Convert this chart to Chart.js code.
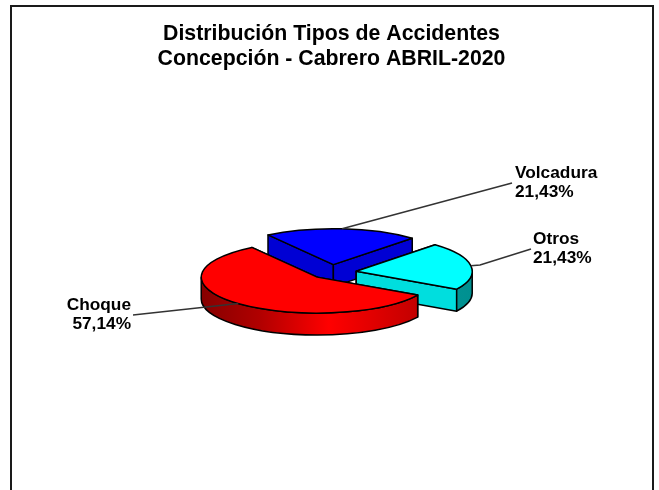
<!DOCTYPE html>
<html>
<head>
<meta charset="utf-8">
<style>
  body { margin: 0; background: #fff; }
</style>
<script src="https://cdn.jsdelivr.net/npm/chart.js@4"></script>
</head>
<body>
<canvas id="chart" width="659" height="490"></canvas>
<script>
const categories = ['Choque', 'Volcadura', 'Otros']
const values = [57.14, 21.43, 21.43]
const titleLines = ['Distribución Tipos de Accidentes', 'Concepción - Cabrero ABRIL-2020']

const topColors = ['#ff0000', '#0000ff', '#00ffff']
const faceColors = ['#a00000', '#0000d4', '#00dede']

const tilt = 0.31
const depth = 22
const explode = [21, 25, 25]
const drawOrder = [1, 2, 0]

// where each label sits, and the end of its leader line on the label side
const labelSpots = [
    { x: 131, y: 305, align: 'right', lineX: 133, lineY: 315 },
    { x: 515, y: 173, align: 'left', lineX: 512, lineY: 183 },
    { x: 533, y: 239, align: 'left', lineX: 531, lineY: 249, elbowX: 480, elbowY: 265 },
]

function midOf(arc) {
    return (arc.startAngle + arc.endAngle) / 2
}

function sliceCenter(arc, i) {
    const mid = midOf(arc)
    return {
        x: arc.x + Math.cos(mid) * explode[i],
        y: arc.y + Math.sin(mid) * explode[i] * tilt,
    }
}

function rimPoint(arc, i, angle) {
    const c = sliceCenter(arc, i)
    return {
        x: c.x + Math.cos(angle) * arc.outerRadius,
        y: c.y + Math.sin(angle) * arc.outerRadius * tilt,
    }
}

function drawFace(ctx, arc, i, angle) {
    const c = sliceCenter(arc, i)
    const p = rimPoint(arc, i, angle)
    ctx.beginPath()
    ctx.moveTo(c.x, c.y)
    ctx.lineTo(p.x, p.y)
    ctx.lineTo(p.x, p.y + depth)
    ctx.lineTo(c.x, c.y + depth)
    ctx.closePath()
    ctx.fillStyle = faceColors[i]
    ctx.fill()
    ctx.stroke()
}

function rimFill(ctx, arc, i) {
    const c = sliceCenter(arc, i)
    const g = ctx.createLinearGradient(c.x - arc.outerRadius, 0, c.x + arc.outerRadius, 0)
    if (i === 0) {
        g.addColorStop(0, '#860000')
        g.addColorStop(0.25, '#b00000')
        g.addColorStop(0.55, '#ff0000')
        g.addColorStop(1, '#b80000')
    } else if (i === 2) {
        g.addColorStop(0, '#00b0b0')
        g.addColorStop(1, '#009090')
    } else {
        return faceColors[i]
    }
    return g
}

// the part of the slice's edge that faces the viewer
function drawRim(ctx, arc, i) {
    const c = sliceCenter(arc, i)
    const r = arc.outerRadius
    const TAU = Math.PI * 2
    for (let turn = 0; turn < 2; turn++) {
        const a0 = Math.max(arc.startAngle, turn * TAU)
        const a1 = Math.min(arc.endAngle, turn * TAU + Math.PI)
        if (a1 <= a0) continue
        ctx.beginPath()
        ctx.ellipse(c.x, c.y, r, r * tilt, 0, a0, a1)
        ctx.ellipse(c.x, c.y + depth, r, r * tilt, 0, a1, a0, true)
        ctx.closePath()
        ctx.fillStyle = rimFill(ctx, arc, i)
        ctx.fill()
        ctx.stroke()
    }
}

function drawTop(ctx, arc, i) {
    const c = sliceCenter(arc, i)
    ctx.save()
    ctx.translate(c.x, c.y)
    ctx.scale(1, tilt)
    ctx.translate(-arc.x, -arc.y)
    arc.draw(ctx)
    ctx.restore()

    ctx.beginPath()
    ctx.moveTo(c.x, c.y)
    ctx.ellipse(c.x, c.y, arc.outerRadius, arc.outerRadius * tilt, 0, arc.startAngle, arc.endAngle)
    ctx.closePath()
    ctx.stroke()
}

const pie3d = {
    id: 'pie3d',
    beforeDraw(chart) {
        const ctx = chart.ctx
        ctx.save()
        ctx.strokeStyle = '#1a1a1a'
        ctx.lineWidth = 2
        ctx.strokeRect(11, 6, 642, 600)
        ctx.restore()
    },
    beforeDatasetsDraw(chart) {
        const ctx = chart.ctx
        const arcs = chart.getDatasetMeta(0).data
        ctx.save()
        ctx.strokeStyle = '#000'
        ctx.lineWidth = 1.5
        ctx.lineJoin = 'round'
        drawOrder.forEach(i => {
            drawFace(ctx, arcs[i], i, arcs[i].startAngle)
            drawFace(ctx, arcs[i], i, arcs[i].endAngle)
            drawRim(ctx, arcs[i], i)
        })
        drawOrder.forEach(i => drawTop(ctx, arcs[i], i))
        ctx.restore()

        // leader lines and labels
        ctx.save()
        ctx.strokeStyle = '#333'
        ctx.lineWidth = 1.5
        ctx.fillStyle = '#000'
        ctx.font = 'bold 17.3px "Liberation Sans"'
        ctx.textBaseline = 'middle'
        arcs.forEach((arc, i) => {
            const spot = labelSpots[i]
            const anchor = rimPoint(arc, i, midOf(arc))
            ctx.beginPath()
            ctx.moveTo(anchor.x, anchor.y)
            if (spot.elbowX) ctx.lineTo(spot.elbowX, spot.elbowY)
            ctx.lineTo(spot.lineX, spot.lineY)
            ctx.stroke()
            ctx.textAlign = spot.align
            ctx.fillText(categories[i], spot.x, spot.y)
            ctx.fillText(values[i].toFixed(2).replace('.', ',') + '%', spot.x, spot.y + 19.5)
        })
        ctx.restore()
        return false
    },
}

new Chart(document.getElementById('chart').getContext('2d'), {
    type: 'pie',
    data: {
        labels: categories,
        datasets: [{
            data: values,
            backgroundColor: topColors,
            borderWidth: 0,
            rotation: 120,
            radius: 116,
        }]
    },
    options: {
        responsive: false,
        animation: false,
        layout: { padding: { left: 4, right: 0, top: 21, bottom: 17 } },
        plugins: {
            legend: { display: false },
            tooltip: { enabled: false },
            title: {
                display: true,
                text: titleLines,
                color: '#000',
                font: { family: '"Liberation Sans"', size: 21.3, weight: 'bold', lineHeight: 1.19 },
                padding: { top: 0, bottom: 0 },
            },
        },
    },
    plugins: [pie3d],
})
</script>
</body>
</html>
